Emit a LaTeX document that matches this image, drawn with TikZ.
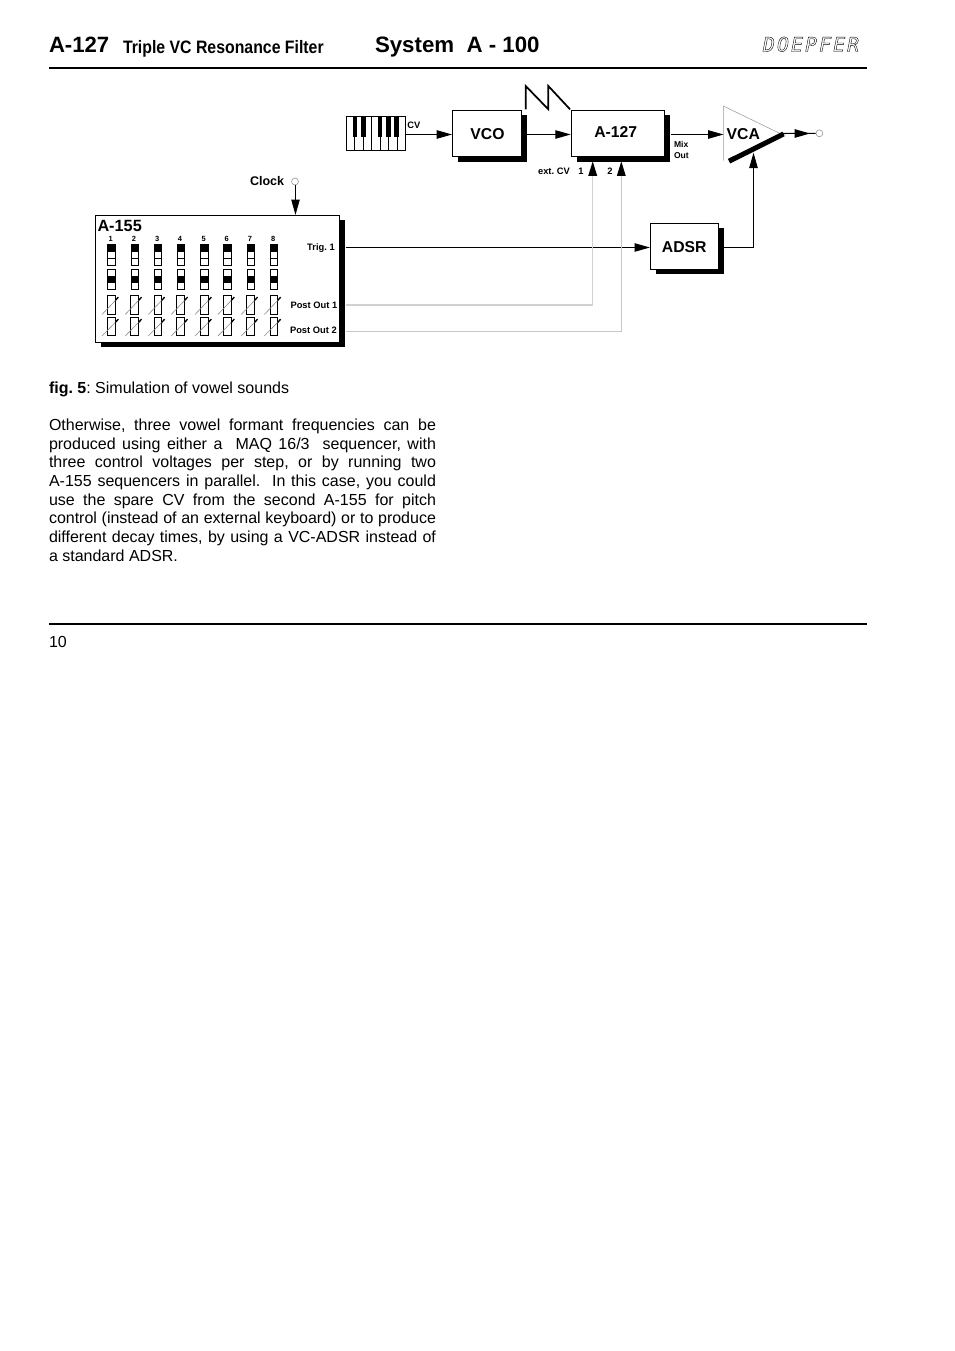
\documentclass[tikz,border=0pt]{standalone}
\usepackage{fontspec}
\setmainfont{Liberation Sans}
\newfontfamily\narrowbold[FakeStretch=0.88]{Liberation Sans Bold}
\newfontfamily\logofont[LetterSpace=11]{DejaVu Sans Mono Oblique}
\usetikzlibrary{arrows.meta,shadows,calc}
\newcommand{\fsz}[1]{\fontsize{#1}{#1}\selectfont}
\tikzset{
  x=0.75pt,y=-0.75pt,
  every node/.append style={execute at begin node=\frenchspacing},
  sig/.style={line width=0.8pt,draw=black,-{Triangle[length=11.5pt,width=6.3pt]}},
  wire/.style={line width=0.8pt,draw=black},
  softa/.style={line width=1pt,draw=black!18,-{Triangle[length=11pt,width=6.5pt,color=black,fill=black]}},
  softb/.style={line width=0.6pt,draw=black!22,-{Triangle[length=11pt,width=6.5pt,color=black,fill=black]}},
  modbox/.style={draw=black,line width=0.75pt,fill=white,inner sep=0pt,
    general shadow={fill=black,shadow xshift=4.1pt,shadow yshift=-3.8pt}},
  txt/.style={inner sep=0pt,outer sep=0pt,anchor=base west},
  boxlabel/.style={inner sep=0pt,font=\bfseries\fsz{11.8}},
  small/.style={inner sep=0pt,font=\bfseries\fsz{7}},
  tiny/.style={inner sep=0pt,font=\bfseries\fsz{5.6}},
  jack/.style={draw=black!45,line width=0.4pt,fill=white,circle,inner sep=0pt,minimum size=5.2pt},
  seqcell/.style={draw=black,line width=0.7pt,fill=white},
  seqfill/.style={fill=black},
  rule/.style={line width=1.5pt,draw=black},
  triangleline/.style={line width=0.4pt,draw=black!40},
}
\begin{document}
\begin{tikzpicture}
\useasboundingbox (0,0) rectangle (954,1351);
\fill[white] (0,0) rectangle (954,1351);

% header
\node[txt,font=\bfseries\fsz{16.6}] (h1) at (49,53) {A-127};
\node[txt,font=\narrowbold\fsz{13.5}] (h2) at (123,53.5) {Triple VC Resonance Filter};
\node[txt,font=\bfseries\fsz{16.7}] (h3) at (375,53) {System\ \ A - 100};
\node[txt,font=\logofont\fsz{14.8}] (logo) at (763,51.5) {\special{pdf:code 1 Tr 0.3 w}DOEPFER\special{pdf:code 0 Tr 0.75 w}};
\coordinate (r1a) at (49,68); \coordinate (r1b) at (867,68);
\draw[rule] (r1a) -- (r1b);

% keyboard
\draw[line width=0.7pt,fill=white] (346.3,116) rectangle (405.7,150.7);
\foreach \k in {1,...,6} \draw[line width=0.5pt] ({346.3+8.49*\k},116) -- ({346.3+8.49*\k},150.7);
\foreach \k in {355,363.3,380,388.3,396.3} \fill ({\k-2.2},116) rectangle ({\k+2.2},136.7);
\coordinate (kbd) at (405.7,134.5);
\node[tiny,font=\bfseries\fsz{7},anchor=base west] (cvl) at (407,128.5) {CV};

% modules
\node[modbox,minimum width=52pt,minimum height=34.7pt] (vco) at (487.2,133.4) {};
\node[boxlabel] (vcot) at (487.5,134.2) {VCO};
\node[modbox,minimum width=70.2pt,minimum height=34.7pt] (a127) at (618,133.4) {};
\node[boxlabel] (a127t) at (615.7,131.8) {A-127};
\node[modbox,minimum width=51pt,minimum height=34.5pt] (adsr) at (684.4,246.4) {};
\node[boxlabel] (adsrt) at (684.2,247.4) {ADSR};
\node[modbox,minimum width=183pt,minimum height=95pt] (a155) at (217.8,278.7) {};
\node[txt,font=\bfseries\fsz{12.2}] (a155t) at (97.5,232) {A-155};

% saw
\draw[line width=1.3pt,line join=miter] (525.7,109.3) -- (525.7,86) -- (548.3,109.3) -- (548.3,86) -- (570,109.3);

% VCA
\coordinate (vt) at (723.3,106); \coordinate (vb) at (723.3,160.7); \coordinate (va) at (781.7,134.3);
\draw[triangleline] (vb) -- (vt) -- (va);
\coordinate (cvs) at (729,161.2); \coordinate (cve) at (783.5,134);
\draw[line width=3.8pt,draw=black] (cvs) -- (cve);
\node[boxlabel] (vcat) at (743.3,133.8) {VCA};
\coordinate (vcain) at (723.5,134.5);
\coordinate (vcacv) at (753.5,152.7);
\coordinate (vcaout) at (781.7,133.5);
\coordinate (adsrlev) at (700,247.5);
\node[jack] (outj) at (819.4,133.3) {};

% top connectors
\draw[sig] (kbd) -- (kbd -| vco.west);
\draw[sig] ([xshift=3.4pt]vco.east |- kbd) -- (kbd -| a127.west);
\draw[sig] ([xshift=4.4pt]a127.east |- kbd) -- (vcain);
\draw[wire] (vcaout) -- (outj.west);
\coordinate (midout) at (810,133.5);
\draw[sig] (vcaout) -- (midout);
\draw[sig] ([xshift=4pt]adsr.east |- adsrlev) -| (vcacv);

% labels at A-127
\node[small,anchor=base west] (mix) at (673.8,147.5) {\fsz{6.4}Mix};
\node[small,anchor=base west] (out) at (673.8,158.5) {\fsz{6.4}Out};
\node[small,anchor=base east] (extcv) at (570,174.5) {ext. CV};
\node[small] (n1) at (581,171) {1};
\node[small] (n2) at (610,171) {2};
\coordinate (in1) at (592.7,161.3);
\coordinate (in2) at (621.3,161.3);

% clock
\node[txt,font=\bfseries\fsz{9.4}] (clk) at (250,186) {Clock};
\node[jack] (clkj) at (295,181.5) {};
\coordinate (clkx) at (295.5,200);
\draw[sig] (clkx |- clkj.south) -- (clkx |- a155.north);

% A-155 outputs
\coordinate (trig) at (344,247.5);
\coordinate (post1) at (344,305);
\coordinate (post2) at (344,331);
\draw[sig] ([xshift=4pt]a155.east |- trig) -- (trig -| adsr.west);
\draw[softa] ([xshift=4pt]a155.east |- post1) -| (in1);
\draw[softb] ([xshift=4pt]a155.east |- post2) -| (in2);
\node[small,anchor=base east] (ltrig) at (335,250.5) {Trig. 1};
\node[small,anchor=base east] (lp1) at (337.5,308.8) {Post Out 1};
\node[small,anchor=base east] (lp2) at (337,333.8) {Post Out 2};

% sequencer columns
\foreach \n/\c in {1/111.7,2/134.9,3/158,4/180.9,5/204.7,6/227.6,7/250.9,8/274}{
  \node[tiny] (num\n) at ({\c-0.9},239) {\n};
  \draw[seqcell] ({\c-3.8},244) rectangle ({\c+3.8},265);
  \fill[seqfill] ({\c-3.8},244) rectangle ({\c+3.8},251);
  \draw[line width=0.7pt] ({\c-3.8},251) -- ({\c+3.8},251) ({\c-3.8},258) -- ({\c+3.8},258);
  \draw[seqcell] ({\c-3.8},269.3) rectangle ({\c+3.8},289.3);
  \fill[seqfill] ({\c-3.8},276) rectangle ({\c+3.8},283);
  \draw[seqcell] ({\c-4},295.3) rectangle ({\c+3.4},314);
  \draw[seqcell] ({\c-4},317.5) rectangle ({\c+3.4},335);
  \draw[line width=0.45pt,draw=black!45] ({\c-9.7},314.5) -- ({\c+7},297);
  \draw[line width=0.45pt,draw=black!45] ({\c-9.7},336) -- ({\c+7},319);
  \draw[line width=1pt] ({\c+3.6},300.5) -- ({\c+6.6},297.2);
  \draw[line width=1pt] ({\c+3.6},322.5) -- ({\c+6.6},319.2);
}

% caption and body
\node[txt,font=\fsz{12}] (cap) at (49,393.5) {\textbf{fig. 5}: Simulation of vowel sounds};
\node[inner sep=0pt,outer sep=0pt,anchor=north west,text width=290.25pt,align=justify,
      font=\fontsize{12}{13.98}\selectfont] (body) at (49,419) {%
Otherwise, three vowel formant frequencies can be\linebreak
produced using either a\ \ MAQ 16/3\ \ sequencer, with\linebreak
three control voltages per step, or by running two\linebreak
A-155 sequencers in parallel.\ \ In this case, you could\linebreak
use the spare CV from the second A-155 for pitch\linebreak
control (instead of an external keyboard) or to produce\linebreak
different decay times, by using a VC-ADSR instead of\linebreak
a standard ADSR.};

% footer
\coordinate (r2a) at (49,624); \coordinate (r2b) at (867,624);
\draw[rule] (r2a) -- (r2b);
\node[txt,font=\fsz{12}] (page) at (49,647) {10};
\end{tikzpicture}
\end{document}
